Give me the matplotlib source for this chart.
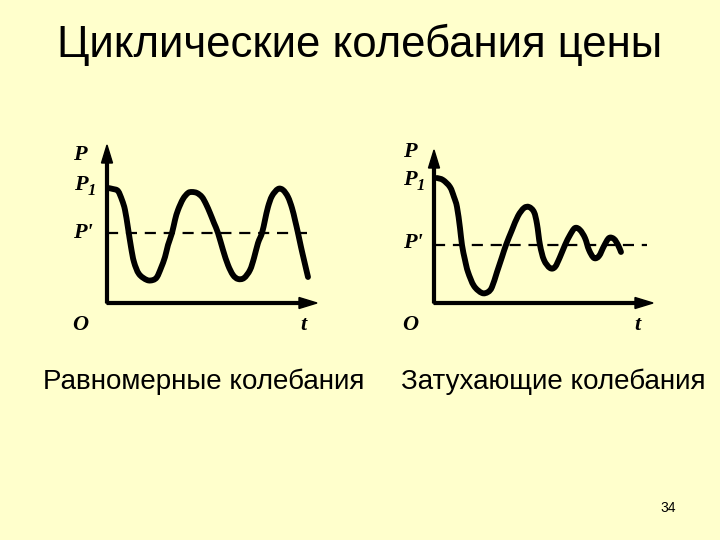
import matplotlib
matplotlib.use("Agg")
import matplotlib.pyplot as plt
from matplotlib.path import Path
from matplotlib.patches import PathPatch

BG = "#FFFFCC"

# Равномерные колебания: (t, P)
uni_t = [0.05, 0.3, 0.55, 0.75, 0.9, 1.05, 1.2, 1.35, 1.6, 2.0, 2.3, 2.5, 2.7, 2.9,
         3.05, 3.25, 3.4, 3.55, 3.8, 4.05, 4.25, 4.5, 4.75, 4.95, 5.15, 5.35, 5.55,
         5.8, 6.05, 6.3, 6.55, 6.85, 7.15, 7.35, 7.55, 7.75, 7.9, 8.05, 8.25, 8.55,
         8.8, 9.05, 9.25, 9.4, 9.55, 9.7, 9.85, 10.05]
uni_p = [5.75, 5.7, 5.6, 5.15, 4.65, 3.75, 2.8, 2.05, 1.45, 1.15, 1.15, 1.3, 1.75, 2.3,
         2.9, 3.5, 4.15, 4.65, 5.2, 5.5, 5.55, 5.5, 5.3, 4.95, 4.5, 4.0, 3.5,
         2.65, 1.9, 1.4, 1.2, 1.25, 1.65, 2.25, 3.0, 3.5, 4.15, 4.8, 5.35, 5.7,
         5.65, 5.3, 4.75, 4.15, 3.5, 2.8, 2.15, 1.3]
uni_eq = 3.5

# Затухающие колебания
damp_t = [0.15, 0.45, 0.8, 1.0, 1.15, 1.3, 1.4, 1.55, 1.7, 2.0, 2.4, 2.7, 2.9, 3.15,
          3.4, 3.6, 3.9, 4.2, 4.5, 4.75, 5.0, 5.15, 5.3, 5.5, 5.8, 6.05, 6.3, 6.55,
          6.8, 7.05, 7.3, 7.55, 7.75, 8.0, 8.25, 8.5, 8.75, 9.0, 9.2, 9.35]
damp_p = [6.25, 6.15, 5.8, 5.3, 4.8, 3.75, 2.9, 2.15, 1.55, 0.85, 0.5, 0.55, 0.8, 1.55,
          2.3, 2.9, 3.65, 4.35, 4.75, 4.8, 4.55, 3.95, 2.9, 2.15, 1.75, 1.8, 2.3, 2.9,
          3.4, 3.75, 3.65, 3.25, 2.65, 2.25, 2.35, 2.85, 3.25, 3.2, 2.9, 2.55]
damp_eq = 2.9

title = "Циклические колебания цены"
captions = ["Равномерные колебания", "Затухающие колебания"]
page_no = "34"

fig = plt.figure(figsize=(7.2, 5.4), dpi=100, facecolor=BG)

lab = dict(family="Liberation Serif", style="italic", weight="bold",
           fontsize=16, color="black")


def smooth_path(t, p):
    # cubic bezier segments through the read points (catmull-rom handles)
    pts = list(zip(t, p))
    verts = [pts[0]]
    codes = [Path.MOVETO]
    for i in range(len(pts) - 1):
        p0 = pts[i - 1] if i > 0 else pts[i]
        p1, p2 = pts[i], pts[i + 1]
        p3 = pts[i + 2] if i + 2 < len(pts) else p2
        c1 = (p1[0] + (p2[0] - p0[0]) / 6, p1[1] + (p2[1] - p0[1]) / 6)
        c2 = (p2[0] - (p3[0] - p1[0]) / 6, p2[1] - (p3[1] - p1[1]) / 6)
        verts += [c1, c2, p2]
        codes += [Path.CURVE4] * 3
    return Path(verts, codes)


def panel(rect, t, p, eq, eq_end, x_tip, y_tip, lab_pos):
    ax = fig.add_axes(rect)
    ax.set_xlim(-2, 11.5)
    ax.set_ylim(-2, 8.5)
    ax.axis("off")
    ax.plot([0, eq_end], [eq, eq], color="black", lw=1.6,
            dashes=(5, 3.5))
    ax.arrow(0, 0, x_tip, 0, width=0.14, head_width=0.55, head_length=0.9,
             length_includes_head=True, color="black")
    ax.arrow(0, 0, 0, y_tip, width=0.14, head_width=0.55, head_length=0.9,
             length_includes_head=True, color="black")
    ax.add_patch(PathPatch(smooth_path(t, p), facecolor="none",
                           edgecolor="black", lw=4.2, capstyle="round",
                           joinstyle="round"))
    (px, py), (p1x, p1y), (pqx, pqy), (ox, oy), (tx, ty) = lab_pos
    ax.text(px, py, "P", ha="center", va="center", **lab)
    ax.text(p1x, p1y, "P", ha="center", va="center", **lab)
    ax.text(p1x + 0.55, p1y - 0.3, "1", ha="center", va="center",
            **{**lab, "fontsize": 12})
    ax.text(pqx, pqy, "P'", ha="center", va="center", **lab)
    ax.text(ox, oy, "O", ha="center", va="center", **lab)
    ax.text(tx, ty, "t", ha="center", va="center", **lab)
    return ax


panel([67 / 720, 197 / 540, 270 / 720, 210 / 540], uni_t, uni_p, uni_eq, 10.05,
      10.5, 7.9,
      [(-1.35, 7.4), (-1.3, 5.9), (-1.2, 3.5), (-1.35, -1.1), (9.8, -1.1)])
panel([394 / 720, 197 / 540, 270 / 720, 210 / 540], damp_t, damp_p, damp_eq, 10.65,
      10.95, 7.65,
      [(-1.2, 7.55), (-1.2, 6.15), (-1.05, 3.0), (-1.2, -1.1), (10.15, -1.1)])

fig.text(0.5, 1 - 45 / 540, title, ha="center", va="center",
         family="Liberation Sans", fontsize=31.5)
fig.text(204 / 720, 1 - 382 / 540, captions[0], ha="center", va="center",
         family="Liberation Sans", fontsize=20)
fig.text(553 / 720, 1 - 382 / 540, captions[1], ha="center", va="center",
         family="Liberation Sans", fontsize=20)
fig.text(668 / 720, 1 - 508 / 540, page_no, ha="center", va="center",
         family="Liberation Sans", fontsize=10)

fig.savefig("out.png", dpi=100, facecolor=BG)
